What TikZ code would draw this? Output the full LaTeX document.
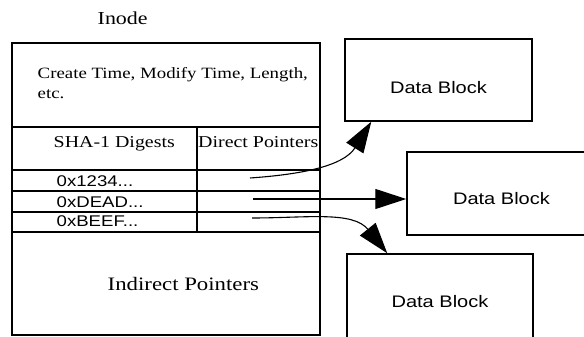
\documentclass[tikz,border=0pt]{standalone}
\usepackage{fontspec}
\setmainfont[FakeStretch=1.2]{Liberation Serif}
\setsansfont[FakeStretch=1.2]{Liberation Sans}
\usetikzlibrary{arrows.meta,calc}

\begin{document}
\begin{tikzpicture}[x=1pt,y=-1pt,line width=1.4pt,
    txt/.style={anchor=base west,inner sep=0pt},
    hex/.style={txt,font=\sffamily\fontsize{15.5}{18}\selectfont},
    block/.style={draw,line width=1.5pt,inner sep=0pt},
    blocktxt/.style={anchor=base,inner sep=0pt,font=\sffamily\fontsize{16.7}{20}\selectfont},
    ptr/.style={line width=1.1pt,-{Triangle[length=31pt,width=20pt]}}]
  \useasboundingbox (0,0) rectangle (584,337);

  % the inode
  \draw (12,43) rectangle (320,335);
  \draw (12,127) -- (320,127);
  \foreach \y in {170,191,212,232}
    \draw (12,\y) -- (320,\y);
  \draw (197,127) -- (197,232);

  \node[txt,font=\fontsize{18.3}{22}\selectfont] (inode) at (97,25) {Inode};
  \node[anchor=north west,inner sep=0pt,align=left,font=\fontsize{15.7}{19.5}\selectfont] (meta) at (37,67)
    {Create Time, Modify Time, Length,\\etc.};
  \node[txt,font=\fontsize{16.6}{20}\selectfont] (sha) at (53,147) {SHA-1 Digests};
  \node[txt,font=\fontsize{16.6}{20}\selectfont] (direct) at (197.5,147) {Direct Pointers};
  \node[hex] (h1) at (56,186) {0x1234...};
  \node[hex] (h2) at (56,207) {0xDEAD...};
  \node[hex] (h3) at (56,226) {0xBEEF...};
  \node[txt,font=\fontsize{19}{22}\selectfont] (indirect) at (107,290) {Indirect Pointers};

  \coordinate (p1) at (250,178);
  \coordinate (p2) at (253,199);
  \coordinate (p3) at (252,218);

  % data blocks
  \node[block,minimum width=187pt,minimum height=82pt] (db1) at (438.5,80) {};
  \node[blocktxt] (db1txt) at (438.5,93) {Data Block};
  \node[block,minimum width=189pt,minimum height=83pt] (db2) at (501.5,193.5) {};
  \node[blocktxt] (db2txt) at (501.5,204) {Data Block};
  \node[block,minimum width=186pt,minimum height=96pt] (db3) at (440,302) {};
  \node[blocktxt] (db3txt) at (440,307) {Data Block};

  \draw[ptr] (p1) to[out=4,in=-122] ($(db1.south west)+(27,0)$);
  \draw[ptr] (p2) -- (p2 -| db2.west);
  \draw[ptr] (p3) to[out=0,in=129] ($(db3.north west)+(41,0)$);
\end{tikzpicture}
\end{document}
